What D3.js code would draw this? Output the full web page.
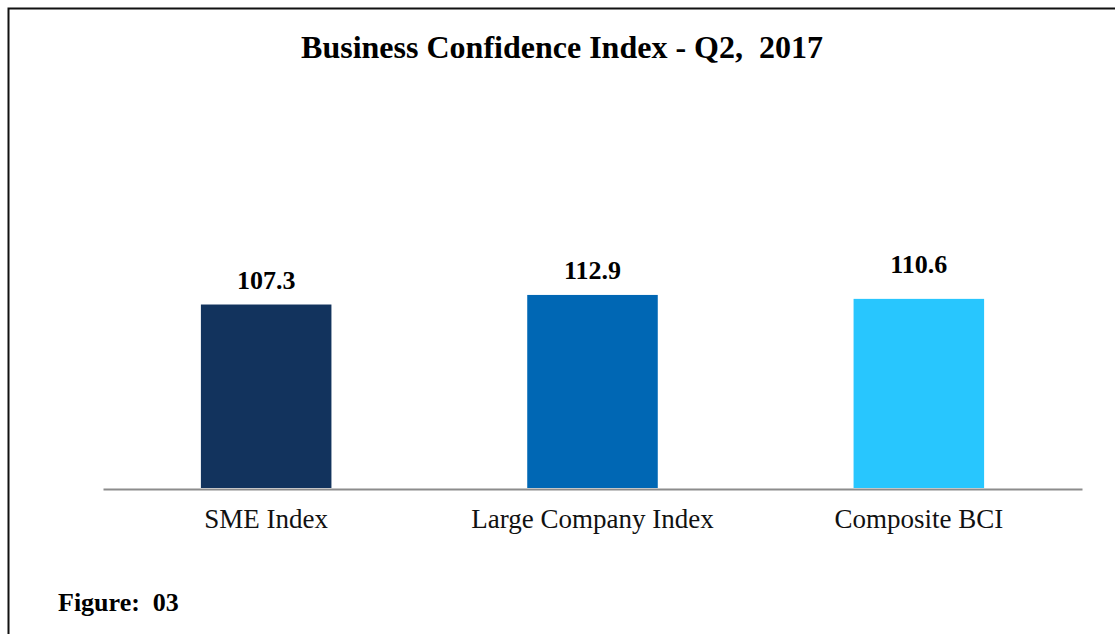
<!DOCTYPE html>
<html>
<head>
<meta charset="utf-8">
<script src="https://cdn.jsdelivr.net/npm/d3@7"></script>
<style>
  html, body { margin: 0; padding: 0; background: #fff; }
  svg { display: block; font-family: "Liberation Serif", "Times New Roman", serif; }
</style>
</head>
<body>
<svg id="chart" width="1115" height="634"></svg>
<script>
// data
var categories = ["SME Index", "Large Company Index", "Composite BCI"];
var values = [107.3, 112.9, 110.6];
var barColors = ["#12335d", "#0067b4", "#28c6fe"];

// label gap above each bar (the composite label sits a bit higher in the original)
var labelGap = [16, 16, 26];

var width = 1115, height = 634;
var svg = d3.select("#chart");

// frame
svg.append("path")
    .attr("d", "M8.5," + height + "V8.5H" + width)
    .attr("fill", "none")
    .attr("stroke", "#111")
    .attr("stroke-width", 2);

// title
svg.append("text")
    .attr("x", 562)
    .attr("y", 58)
    .attr("text-anchor", "middle")
    .style("font-size", "32px")
    .style("font-weight", "bold")
    .style("white-space", "pre")
    .text("Business Confidence Index - Q2,  2017");

var x = d3.scaleBand()
    .domain(categories)
    .range([103, 1082])
    .paddingInner(0.6)
    .paddingOuter(0.3);

var y = d3.scaleLinear()
    .domain([0, 120])
    .range([488, 488 - 120 * 1.71]);

var bars = svg.append("g").selectAll("g")
    .data(categories)
    .join("g");

bars.append("rect")
    .attr("x", function (d) { return x(d); })
    .attr("width", x.bandwidth())
    .attr("y", function (d, i) { return y(values[i]); })
    .attr("height", function (d, i) { return y(0) - y(values[i]); })
    .attr("fill", function (d, i) { return barColors[i]; });

bars.append("text")
    .attr("x", function (d) { return x(d) + x.bandwidth() / 2; })
    .attr("y", function (d, i) { return y(values[i]) - labelGap[i]; })
    .attr("text-anchor", "middle")
    .style("font-size", "26px")
    .style("font-weight", "bold")
    .text(function (d, i) { return values[i].toFixed(1); });

// x axis: gray baseline, no ticks
var xAxis = svg.append("g")
    .attr("transform", "translate(0,489)")
    .call(d3.axisBottom(x).tickSize(0).tickPadding(20));
xAxis.select(".domain").attr("stroke", "#8c8c8c").attr("stroke-width", 2);
xAxis.selectAll("text")
    .style("font-family", "\"Liberation Serif\", \"Times New Roman\", serif")
    .style("font-size", "27px")
    .attr("fill", "#111");

// figure caption
svg.append("text")
    .attr("x", 58)
    .attr("y", 611)
    .style("font-size", "26px")
    .style("font-weight", "bold")
    .style("white-space", "pre")
    .text("Figure:  03");
</script>
</body>
</html>
